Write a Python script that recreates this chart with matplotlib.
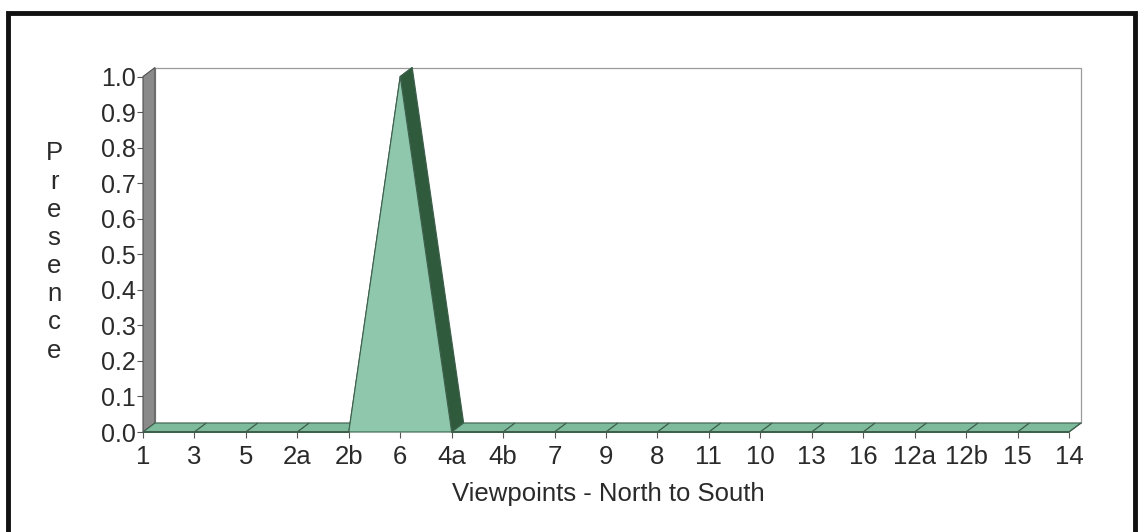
import matplotlib
matplotlib.use("Agg")
import matplotlib.pyplot as plt
from matplotlib.patches import Polygon, Rectangle
import numpy as np

plt.rcParams['font.family'] = ['Liberation Sans', 'DejaVu Sans']

# ---- data ----
viewpoints = ["1", "3", "5", "2a", "2b", "6", "4a", "4b", "7", "9", "8", "11",
              "10", "13", "16", "12a", "12b", "15", "14"]
presence = [0, 0, 0, 0, 0, 1.0, 0, 0, 0, 0, 0, 0, 0, 0, 0, 0, 0, 0, 0]
yticks = [0.0, 0.1, 0.2, 0.3, 0.4, 0.5, 0.6, 0.7, 0.8, 0.9, 1.0]
x_title = "Viewpoints - North to South"
y_title = "Presence"

# ---- style ----
W, H = 1143, 532
front_col = "#8ec7ab"
top_col = "#7dbb9c"
side_col = "#2f5a3b"
edge_col = "#3d5f4c"
wall_col = "#8a8a8a"
text_col = "#2a2a2a"
fs = 18.5

fig = plt.figure(figsize=(W / 100, H / 100), dpi=100)
fig.patch.set_facecolor("white")

def fx(px):
    return px / W

def fy(py):
    return 1 - py / H

left, right, top, bottom = 143, 1069, 76.5, 432
ax = fig.add_axes([fx(left), fy(bottom), fx(right) - fx(left), fy(top) - fy(bottom)])
ax.set_facecolor("none")
n = len(viewpoints)
x = np.arange(n)
ax.set_xlim(0, n - 1)
ax.set_ylim(0, 1)
for s in ax.spines.values():
    s.set_visible(False)

# depth offsets in data units (~12 px right, ~9 px up)
dx = 12 / ((right - left) / (n - 1))
dy = 9 / (bottom - top)

# back wall
ax.add_patch(Rectangle((dx, dy), n - 1, 1, facecolor="white", edgecolor="#9a9a9a",
                       lw=0.9, clip_on=False, zorder=1))
# left wall
ax.add_patch(Polygon([(0, 0), (dx, dy), (dx, 1 + dy), (0, 1)], closed=True,
                     facecolor=wall_col, edgecolor="#505050", lw=0.8,
                     clip_on=False, zorder=2))

# top / side faces of the area series
for i in range(n - 1):
    x0, x1 = x[i], x[i + 1]
    y0, y1 = presence[i], presence[i + 1]
    quad = [(x0, y0), (x1, y1), (x1 + dx, y1 + dy), (x0 + dx, y0 + dy)]
    fc = side_col if y1 < y0 else top_col
    ax.add_patch(Polygon(quad, closed=True, facecolor=fc, edgecolor=edge_col,
                         lw=0.8, clip_on=False, zorder=3))
# front face
poly = [(x[0], 0)] + list(zip(x, presence)) + [(x[-1], 0)]
ax.add_patch(Polygon(poly, closed=True, facecolor=front_col, edgecolor=edge_col,
                     lw=0.8, clip_on=False, zorder=4))
ax.plot([x[-1], x[-1] + dx], [0, dy], color=edge_col, lw=0.8, clip_on=False, zorder=5)

# ticks
ax.set_xticks(x)
ax.set_xticklabels(viewpoints, fontsize=fs, color=text_col)
ax.set_yticks(yticks)
ax.set_yticklabels([f"{v:.1f}" for v in yticks], fontsize=fs - 0.5, color=text_col)
ax.tick_params(axis="x", length=4, width=0.8, color="#555555", pad=5)
ax.tick_params(axis="y", length=4, width=0.8, color="#555555", pad=1)

fig.text(fx(608), fy(494), x_title, ha="center", va="center", fontsize=fs,
         color=text_col)
fig.text(fx(54), fy(252), "\n".join(y_title), ha="center", va="center",
         fontsize=fs, color=text_col, linespacing=1.22)

# outer border
fig.patches.append(Rectangle((fx(8), fy(560)), fx(1135) - fx(8), fy(13) - fy(560),
                             transform=fig.transFigure, fill=False,
                             edgecolor="#111111", lw=3.5, clip_on=False))

fig.savefig("out.png", dpi=100)
